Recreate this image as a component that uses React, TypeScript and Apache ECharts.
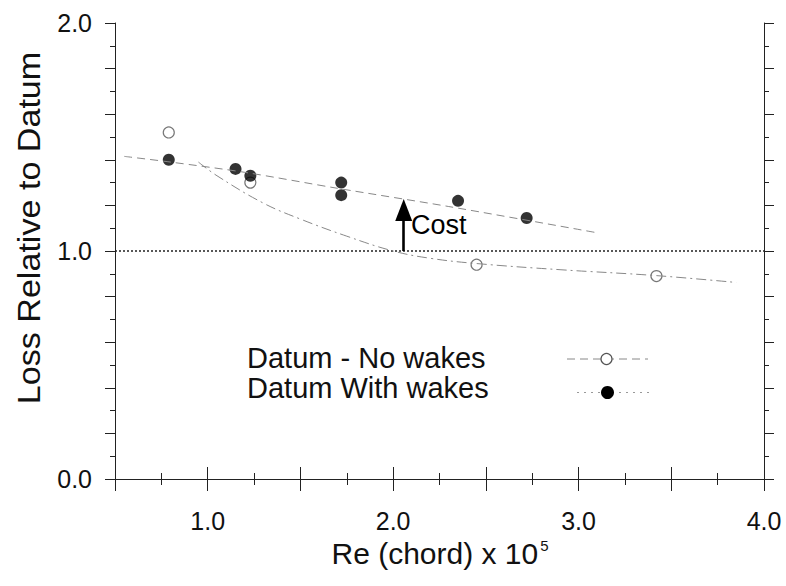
import React, { useEffect, useRef } from "react";
import * as echarts from "echarts";

// ---- data ----
const withWakes: [number, number][] = [
  [0.79, 1.40], [1.15, 1.36], [1.23, 1.33], [1.72, 1.30], [1.72, 1.245], [2.35, 1.22], [2.72, 1.145],
];
const noWakes: [number, number][] = [
  [0.79, 1.52], [1.23, 1.30], [2.45, 0.94], [3.42, 0.89],
];
const withWakesFit: [number, number][] = [
  [0.55, 1.415], [0.8, 1.39], [1.2, 1.345], [1.7, 1.275], [2.3, 1.195], [3.1, 1.08],
];
const noWakesFit: [number, number][] = [
  [0.95, 1.39], [1.05, 1.33], [1.3, 1.21], [1.5, 1.14], [1.75, 1.065], [2.0, 1.0],
  [2.2, 0.968], [2.45, 0.945], [2.9, 0.918], [3.42, 0.892], [3.85, 0.862],
];
const datumLine: [number, number][] = [[0.5, 1.0], [4.0, 1.0]];
const costArrow: [number, number][] = [[2.057, 1.0], [2.057, 1.18]];
const xRange = [0.5, 4.0];
const yRange = [0.0, 2.0];
const legendLabels = ["Datum - No wakes", "Datum With wakes"];
const xTitle = "Re (chord) x 10";
const xTitleSup = "5";
const yTitle = "Loss Relative to Datum";
const costLabel = "Cost";

const FONT = "'Liberation Sans', Arial, sans-serif";

const isWhole = (v: number) => Math.abs(v - Math.round(v)) < 1e-9;

function axisCommon(showLabels: boolean, isX: boolean) {
  return {
    type: "value" as const,
    min: isX ? xRange[0] : yRange[0],
    max: isX ? xRange[1] : yRange[1],
    interval: isX ? 0.5 : 0.2,
    axisLine: { show: true, lineStyle: { color: "#222", width: 1 } },
    axisTick: { show: true, inside: false, length: isX ? 12 : 10, lineStyle: { color: "#222", width: 1 } },
    minorTick: { show: true, splitNumber: 2, length: isX ? 6 : 5, lineStyle: { color: "#222", width: 1 } },
    splitLine: { show: false },
    minorSplitLine: { show: false },
    axisLabel: {
      show: showLabels,
      margin: isX ? 29 : 23,
      fontSize: 25,
      fontFamily: FONT,
      color: "#111",
      formatter: (v: number) => {
        if (!isWhole(v)) return "";
        if (isX && v < 1) return "";
        return v.toFixed(1);
      },
    },
  };
}

export default function App() {
  const ref = useRef<HTMLDivElement>(null);

  useEffect(() => {
    if (!ref.current) return;
    const chart = echarts.init(ref.current, undefined, { renderer: "svg" });
    chart.setOption({
      animation: false,
      backgroundColor: "#fff",
      grid: { left: 115, right: 22, top: 23, bottom: 107 },
      xAxis: [
        { ...axisCommon(true, true), position: "bottom" },
        { ...axisCommon(false, true), position: "top" },
      ],
      yAxis: [
        { ...axisCommon(true, false), position: "left" },
        { ...axisCommon(false, false), position: "right" },
      ],
      series: [
        {
          name: "datum",
          type: "line",
          data: datumLine,
          showSymbol: false,
          silent: true,
          lineStyle: { color: "#222", width: 1.3, type: [2, 2] },
        },
        {
          name: "withFit",
          type: "line",
          data: withWakesFit,
          showSymbol: false,
          smooth: 0.3,
          silent: true,
          lineStyle: { color: "#888", width: 1, type: [8, 5] },
        },
        {
          name: "noFit",
          type: "line",
          data: noWakesFit,
          showSymbol: false,
          smooth: 0.4,
          silent: true,
          lineStyle: { color: "#888", width: 1, type: [10, 4, 2, 4] },
        },
        {
          name: legendLabels[0],
          type: "scatter",
          data: noWakes,
          symbol: "circle",
          symbolSize: 11,
          itemStyle: { color: "rgba(255,255,255,0)", borderColor: "#555", borderWidth: 1.2 },
        },
        {
          name: legendLabels[1],
          type: "scatter",
          data: withWakes,
          symbol: "circle",
          symbolSize: 12,
          itemStyle: { color: "#000" },
        },
        {
          name: "cost",
          type: "line",
          data: [],
          markLine: {
            silent: true,
            animation: false,
            symbol: ["none", "triangle"],
            symbolSize: [17, 22],
            label: { show: false },
            lineStyle: { color: "#000", width: 2.6, type: "solid" },
            data: [[{ coord: costArrow[0] }, { coord: costArrow[1] }]],
          },
        },
      ],
      graphic: [
        {
          type: "text",
          x: 30,
          y: 228,
          rotation: Math.PI / 2,
          scaleX: 1.1,
          style: {
            text: yTitle,
            fontSize: 31,
            fontFamily: FONT,
            fill: "#111",
            align: "center",
            verticalAlign: "middle",
          },
        },
        {
          type: "text",
          x: 440,
          y: 553,
          style: {
            text: `{a|${xTitle}}{b|${xTitleSup}}`,
            align: "center",
            verticalAlign: "middle",
            rich: {
              a: { fontSize: 30, fontFamily: FONT, fill: "#111", lineHeight: 34 },
              b: { fontSize: 15, fontFamily: FONT, fill: "#111", verticalAlign: "top", padding: [2, 0, 0, 2] },
            },
          },
        },
        {
          type: "text",
          x: 411,
          y: 225,
          style: { text: costLabel, fontSize: 27, fontFamily: FONT, fill: "#000", verticalAlign: "middle" },
        },
        {
          type: "text",
          x: 247,
          y: 358,
          style: { text: legendLabels[0], fontSize: 29, fontFamily: FONT, fill: "#111", verticalAlign: "middle" },
        },
        {
          type: "text",
          x: 247,
          y: 388,
          style: { text: legendLabels[1], fontSize: 29, fontFamily: FONT, fill: "#111", verticalAlign: "middle" },
        },
        {
          type: "line",
          shape: { x1: 567, y1: 359, x2: 648, y2: 359 },
          style: { stroke: "#888", lineWidth: 1, lineDash: [8, 5] },
        },
        {
          type: "circle",
          shape: { cx: 606.5, cy: 359, r: 5.5 },
          style: { fill: "#fff", stroke: "#555", lineWidth: 1.2 },
        },
        {
          type: "line",
          shape: { x1: 577, y1: 392.5, x2: 652, y2: 392.5 },
          style: { stroke: "#999", lineWidth: 1, lineDash: [2, 5] },
        },
        {
          type: "circle",
          shape: { cx: 607.5, cy: 392.5, r: 6.5 },
          style: { fill: "#000" },
        },
      ],
    });
    return () => chart.dispose();
  }, []);

  return (
    <div
      ref={ref}
      style={{ position: "fixed", left: 0, top: 0, width: 786, height: 586, background: "#fff" }}
    />
  );
}
